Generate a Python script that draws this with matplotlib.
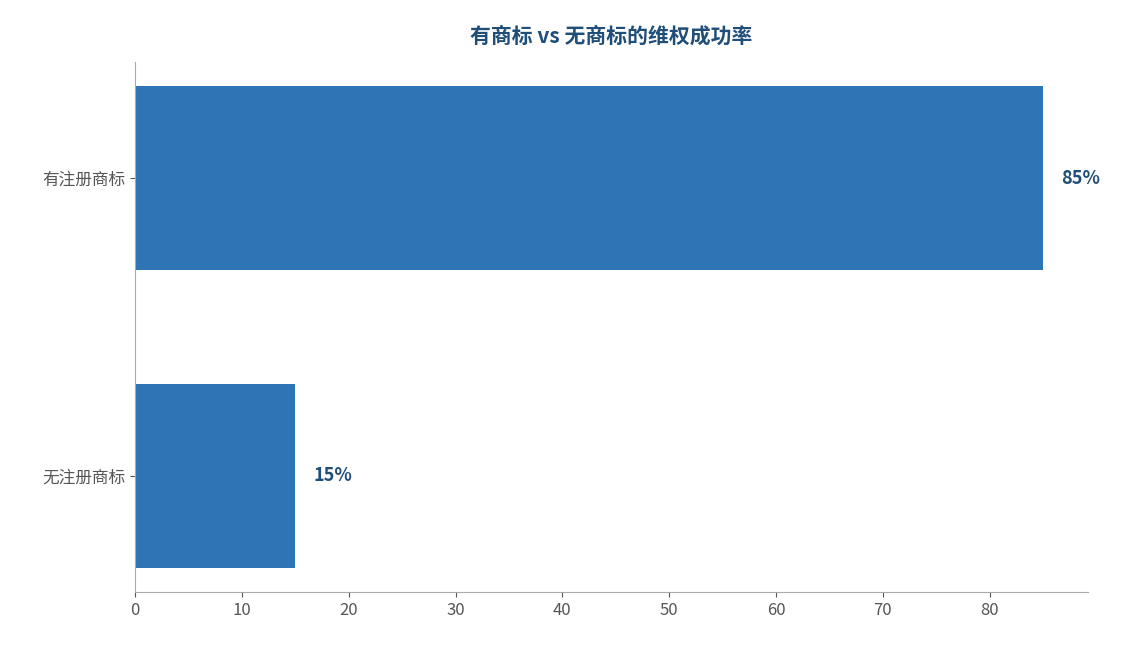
import matplotlib
matplotlib.use("Agg")
import matplotlib.pyplot as plt

plt.rcParams['font.family'] = ['Noto Sans CJK SC', 'DejaVu Sans']

categories = ['无注册商标', '有注册商标']
values = [15, 85]
labels = ['15%', '85%']

fig = plt.figure(figsize=(11.22, 6.45), dpi=100)
ax = fig.add_axes([0.1203, 0.0822, 0.8494, 0.8217])
ax.barh(categories, values, height=0.62, color='#2e75b6')
for i, (v, l) in enumerate(zip(values, labels)):
    ax.text(v + 1.7, i, l, va='center', ha='left', fontsize=13, fontweight='bold', color='#1f4e79')
ax.set_xlim(0, 89.2)
ax.set_ylim(-0.39, 1.39)
ax.set_xticks(range(0, 90, 10))
for s in ['top', 'right']:
    ax.spines[s].set_visible(False)
for s in ['left', 'bottom']:
    ax.spines[s].set_color('#aaaaaa')
ax.tick_params(colors='#555555', labelsize=12)
ax.tick_params(axis='both', color='#555555')
ax.set_title('有商标 vs 无商标的维权成功率', fontsize=15, fontweight='bold', color='#1f4e79', pad=14)
fig.savefig('out.png', dpi=100)
